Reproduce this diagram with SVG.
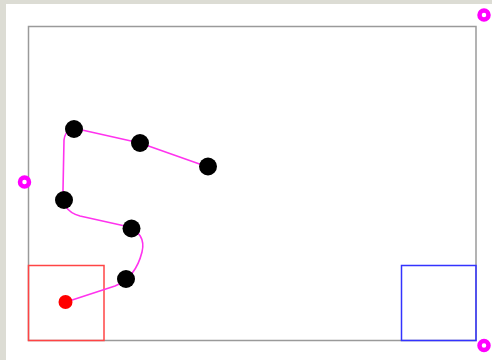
<svg xmlns="http://www.w3.org/2000/svg" width="492" height="360" viewBox="0 0 492 360">
  <style>
    .frame { fill: none; stroke: #9a9a9a; stroke-width: 1.5; }
    .dot { fill: #000; }
    .anchor { fill: none; stroke: #ff00ff; stroke-width: 4.5; }
    .route { fill: none; stroke: #ff33ee; stroke-width: 1.6; stroke-linejoin: round; stroke-linecap: round; }
  </style>
  <!-- page backdrop -->
  <rect x="0" y="0" width="492" height="360" fill="#dcdcd4"/>
  <rect x="6" y="4" width="486" height="356" fill="#ffffff"/>
  <!-- playfield -->
  <rect class="frame" x="28.5" y="26.5" width="447.5" height="314"/>
  <!-- start and goal zones -->
  <g id="start-zone">
    <rect x="28.5" y="265.5" width="75.5" height="75" fill="none" stroke="#ff4444" stroke-width="1.5"/>
  </g>
  <g id="goal-zone">
    <rect x="401.5" y="265.5" width="74.5" height="75" fill="none" stroke="#3333ff" stroke-width="1.5"/>
  </g>
  <!-- connectors -->
  <g id="connectors">
    <path class="route" d="M208,167 L140,143 L82,130 C72,127 65,130 64,140 L63,190 C63,205 66,212 80,216 L125,226 C140,230 145,240 142,252 C138,268 130,280 115,286 L66,302"/>
  </g>
  <!-- waypoints -->
  <g id="wp1"><circle class="dot" cx="74" cy="129" r="9"/></g>
  <g id="wp2"><circle class="dot" cx="140" cy="143" r="9"/></g>
  <g id="wp3"><circle class="dot" cx="208" cy="166.5" r="9"/></g>
  <g id="wp4"><circle class="dot" cx="64" cy="200" r="9"/></g>
  <g id="wp5"><circle class="dot" cx="131.5" cy="228.5" r="9"/></g>
  <g id="wp6"><circle class="dot" cx="126" cy="279" r="9"/></g>
  <g id="start"><circle cx="65.5" cy="302" r="7" fill="#ff0000"/></g>
  <!-- handles -->
  <g id="handle-top-right"><circle class="anchor" cx="484" cy="15" r="4.5"/></g>
  <g id="handle-left"><circle class="anchor" cx="24.5" cy="182" r="4.5"/></g>
  <g id="handle-bottom-right"><circle class="anchor" cx="484" cy="345.5" r="4.5"/></g>
</svg>
